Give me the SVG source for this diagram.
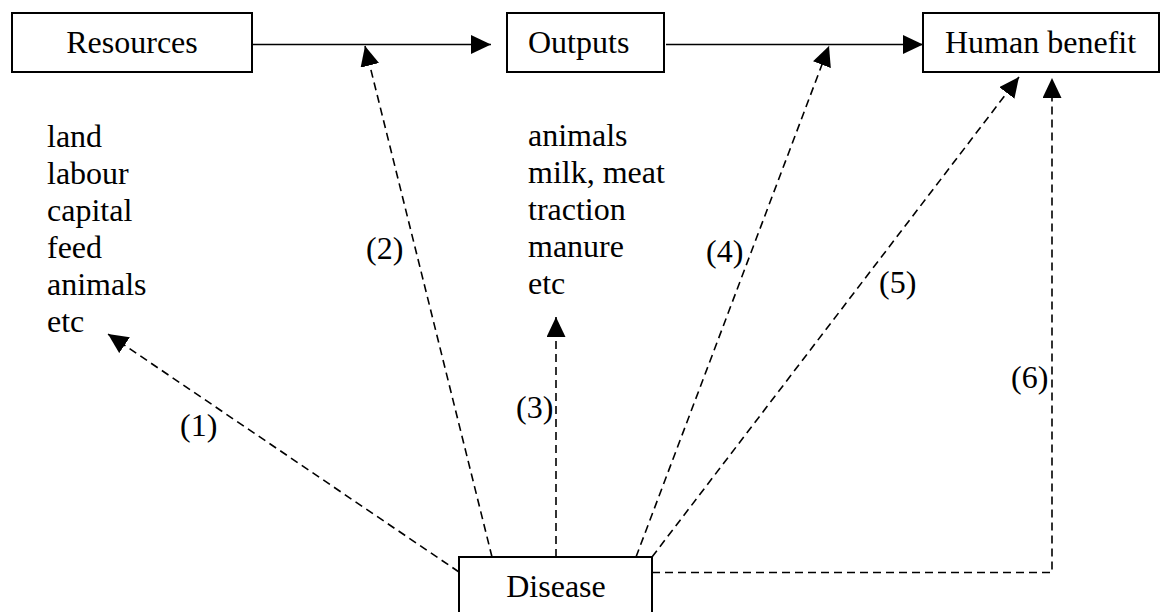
<svg xmlns="http://www.w3.org/2000/svg" width="1161" height="612" viewBox="0 0 1161 612">
<defs>
<style>
.box{fill:#fff;stroke:#000;stroke-width:2}
.t{font-family:"Times New Roman","Liberation Serif",Tinos,"DejaVu Serif",serif;font-size:32px;fill:#000}
.solid{fill:none;stroke:#000;stroke-width:1.6}
.dash{fill:none;stroke:#000;stroke-width:1.6;stroke-dasharray:8 5}
</style>
<marker id="ah" markerUnits="userSpaceOnUse" markerWidth="21" markerHeight="20" refX="20" refY="9.5" orient="auto" viewBox="0 0 21 20">
<path d="M0,0 L20,9.5 L0,19 z" fill="#000"/>
</marker>
</defs>
<rect width="1161" height="612" fill="#fff"/>
<g id="connectors">
<line class="solid" x1="253" y1="44.5" x2="491" y2="44.5" marker-end="url(#ah)"/>
<line class="solid" x1="666" y1="44.5" x2="923" y2="44.5" marker-end="url(#ah)"/>
<line class="dash" x1="459" y1="572" x2="108" y2="334" marker-end="url(#ah)"/>
<line class="dash" x1="492" y1="557" x2="365" y2="46" marker-end="url(#ah)"/>
<line class="dash" x1="556" y1="557" x2="556" y2="317" marker-end="url(#ah)"/>
<line class="dash" x1="636" y1="557" x2="829" y2="46" marker-end="url(#ah)"/>
<line class="dash" x1="652" y1="557" x2="1019" y2="77" marker-end="url(#ah)"/>
<polyline class="dash" points="652,572.5 1052,572.5 1052,78" marker-end="url(#ah)"/>
<text class="t" font-family="Liberation Serif, serif" x="180" y="436">(1)</text>
<text class="t" x="366" y="259">(2)</text>
<text class="t" x="516" y="418">(3)</text>
<text class="t" x="706" y="262">(4)</text>
<text class="t" x="879" y="293">(5)</text>
<text class="t" x="1011" y="388">(6)</text>
</g>
<g id="resources">
<rect class="box" x="12" y="13" width="240" height="59"/>
<text class="t" x="132" y="53" text-anchor="middle">Resources</text>
</g>
<g id="resources-list">
<text class="t" x="47" y="147">land</text>
<text class="t" x="47" y="184">labour</text>
<text class="t" x="47" y="221">capital</text>
<text class="t" x="47" y="258">feed</text>
<text class="t" x="47" y="295">animals</text>
<text class="t" x="47" y="332">etc</text>
</g>
<g id="outputs">
<rect class="box" x="507" y="13" width="157" height="59"/>
<text class="t" x="528" y="53">Outputs</text>
</g>
<g id="outputs-list">
<text class="t" x="528" y="146">animals</text>
<text class="t" x="528" y="183">milk, meat</text>
<text class="t" x="528" y="220">traction</text>
<text class="t" x="528" y="257">manure</text>
<text class="t" x="528" y="294">etc</text>
</g>
<g id="human-benefit">
<rect class="box" x="923" y="13" width="236" height="59"/>
<text class="t" x="945" y="53">Human benefit</text>
</g>
<g id="disease">
<rect class="box" x="459" y="557" width="193" height="70"/>
<text class="t" x="556" y="597" text-anchor="middle">Disease</text>
</g>
</svg>
